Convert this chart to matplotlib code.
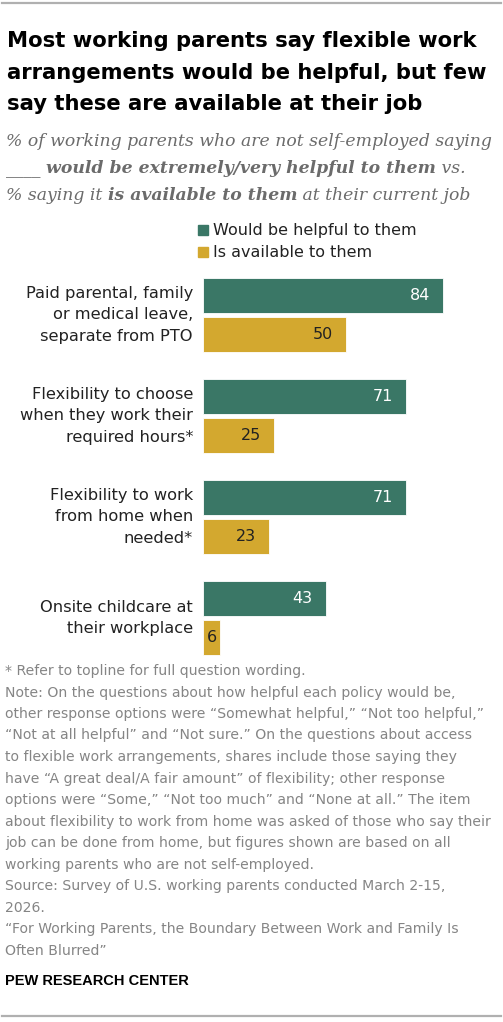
import matplotlib
matplotlib.use("Agg")
import matplotlib.pyplot as plt
from matplotlib.patches import Rectangle
from matplotlib.lines import Line2D
from matplotlib.transforms import ScaledTranslation

# data
categories = [
    "Paid parental, family\nor medical leave,\nseparate from PTO",
    "Flexibility to choose\nwhen they work their\nrequired hours*",
    "Flexibility to work\nfrom home when\nneeded*",
    "Onsite childcare at\ntheir workplace",
]
helpful = [84, 71, 71, 43]
available = [50, 25, 23, 6]
series_names = ["Would be helpful to them", "Is available to them"]

title_lines = [
    "Most working parents say flexible work",
    "arrangements would be helpful, but few",
    "say these are available at their job",
]
subtitle_runs = [
    [("% of working parents who are not self-employed saying", "normal")],
    [("____ ", "normal"), ("would be extremely/very helpful to them", "bold"), (" vs.", "normal")],
    [("% saying it ", "normal"), ("is available to them", "bold"), (" at their current job", "normal")],
]
note_lines = [
    "* Refer to topline for full question wording.",
    "Note: On the questions about how helpful each policy would be,",
    "other response options were \u201cSomewhat helpful,\u201d \u201cNot too helpful,\u201d",
    "\u201cNot at all helpful\u201d and \u201cNot sure.\u201d On the questions about access",
    "to flexible work arrangements, shares include those saying they",
    "have \u201cA great deal/A fair amount\u201d of flexibility; other response",
    "options were \u201cSome,\u201d \u201cNot too much\u201d and \u201cNone at all.\u201d The item",
    "about flexibility to work from home was asked of those who say their",
    "job can be done from home, but figures shown are based on all",
    "working parents who are not self-employed.",
    "Source: Survey of U.S. working parents conducted March 2-15,",
    "2026.",
    "\u201cFor Working Parents, the Boundary Between Work and Family Is",
    "Often Blurred\u201d",
]

GREEN = "#3a7766"
GOLD = "#d3a82f"
W, H = 503, 1022

fig = plt.figure(figsize=(W / 100, H / 100), dpi=100)


def fx(x):
    return x / W


def fy(y):
    return 1 - y / H


# top and bottom rules
fig.add_artist(Line2D([fx(2), fx(501)], [fy(3), fy(3)], color="#b0b0b0", lw=1.6))
fig.add_artist(Line2D([fx(2), fx(501)], [fy(1016), fy(1016)], color="#b0b0b0", lw=1.6))

# title
for i, line in enumerate(title_lines):
    fig.text(fx(7), fy(47 + 31.7 * i), line, fontsize=15.2, fontweight="bold",
             family="DejaVu Sans", color="black", va="baseline")

# subtitle with mixed weights
renderer = fig.canvas.get_renderer()
for i, runs in enumerate(subtitle_runs):
    x = 6
    for txt, wt in runs:
        t = fig.text(fx(x), fy(146.5 + 26.8 * i), txt, fontsize=12.4, style="italic",
                     fontweight=wt, family="DejaVu Serif", color="#6b6b6b", va="baseline")
        x += t.get_window_extent(renderer).width

# legend
for i, (name, col) in enumerate(zip(series_names, [GREEN, GOLD])):
    yb = 235 + 22 * i
    fig.add_artist(Rectangle((fx(198), fy(yb)), 10 / W, 10 / H, color=col,
                             transform=fig.transFigure))
    fig.text(fx(213), fy(yb), name, fontsize=11.5, family="DejaVu Sans",
             color="#222222", va="baseline")

# bars
ax = fig.add_axes([fx(203), fy(668), 285.7 / W, 403 / H])
pos = list(range(len(categories)))
h = 0.345
off = 0.195
ax.barh([p - off for p in pos], helpful, height=h, color=GREEN, edgecolor="white", lw=0.6)
ax.barh([p + off for p in pos], available, height=h, color=GOLD, edgecolor="white", lw=0.6)

for p, v in zip(pos, helpful):
    ax.text(v - 4.6, p - off, str(v), ha="right", va="center", color="white",
            fontsize=11.5, family="DejaVu Sans")
for p, v in zip(pos, available):
    if v < 10:
        ax.text(1.2, p + off, str(v), ha="left", va="center", color="#222222",
                fontsize=11.5, family="DejaVu Sans")
    else:
        ax.text(v - 4.6, p + off, str(v), ha="right", va="center", color="#222222",
                fontsize=11.5, family="DejaVu Sans")

ax.set_xlim(0, 100)
ax.set_ylim(3.495, -0.495)
ax.set_yticks(pos)
ax.set_yticklabels(categories, fontsize=11.7, family="DejaVu Sans", color="#222222",
                   linespacing=1.55)
ax.tick_params(axis="y", length=0, pad=7.2)
# nudge category labels up a little
for lab in ax.get_yticklabels():
    lab.set_transform(lab.get_transform() + ScaledTranslation(0, 0.05, fig.dpi_scale_trans))
ax.set_xticks([])
for s in ax.spines.values():
    s.set_visible(False)

# notes
for i, line in enumerate(note_lines):
    fig.text(fx(5), fy(675 + 21.5 * i), line, fontsize=10.1, family="DejaVu Sans",
             color="#858585", va="baseline")

fig.text(fx(5), fy(985), "PEW RESEARCH CENTER", fontsize=10.5, fontweight="bold",
         family="Liberation Sans", color="black", va="baseline")

fig.savefig("out.png", dpi=100)
